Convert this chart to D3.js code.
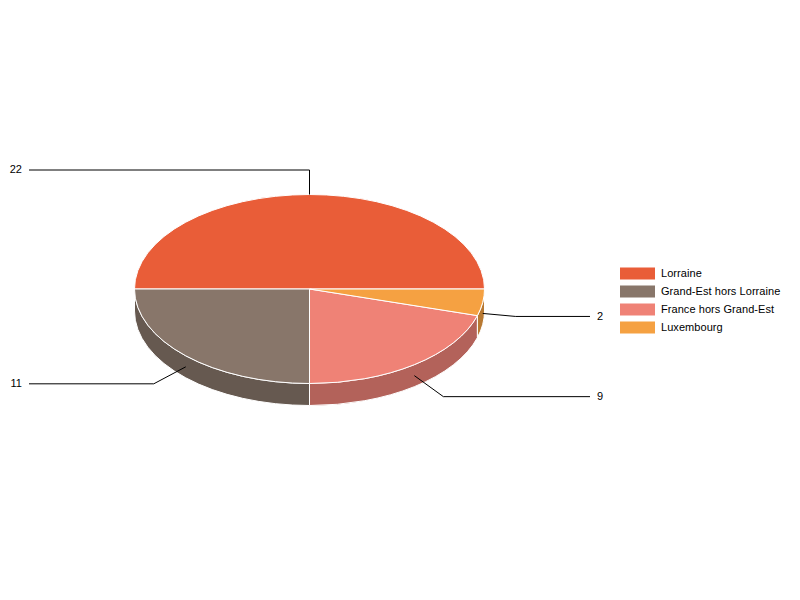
<!DOCTYPE html>
<html>
<head>
<meta charset="utf-8">
<style>
	html, body { margin: 0; padding: 0; background: #fff; }
	text { font-family: 'Liberation Sans', Arial, sans-serif; font-size: 11px; fill: #000; letter-spacing: 0.06px; }
</style>
</head>
<body>
<svg id="pie" width="800" height="600"></svg>
<script src="https://cdnjs.cloudflare.com/ajax/libs/d3/7.8.5/d3.min.js"></script>
<script>
const categories = ['Lorraine', 'Grand-Est hors Lorraine', 'France hors Grand-Est', 'Luxembourg'];
const values = [22, 11, 9, 2];
const colors = ['#e95d38', '#88766a', '#ef8276', '#f5a142'];
const sideColors = ['#af472a', '#665950', '#b3625a', '#b87932'];

let svg = d3.select('#pie');
let depth = 22;

// unit circle -> screen ellipse
let x = d3.scaleLinear().domain([-1, 1]).range([134.5, 484.5]);
let y = d3.scaleLinear().domain([-1, 1]).range([194.5, 383.5]);
let rx = (x(1) - x(-1)) / 2;
let ry = (y(1) - y(-1)) / 2;

// slices run counter-clockwise from 3 o'clock
let pie = d3.pie().sort(null).startAngle(Math.PI / 2).endAngle(Math.PI / 2 - 2 * Math.PI);
let slices = pie(values);

let px = (a) => x(Math.sin(a));
let py = (a) => y(-Math.cos(a));

let topPath = (d) => {
	let large = d.startAngle - d.endAngle > Math.PI ? 1 : 0;
	return 'M' + x(0) + ',' + y(0) +
		'L' + px(d.startAngle) + ',' + py(d.startAngle) +
		'A' + rx + ',' + ry + ' 0 ' + large + ' 0 ' + px(d.endAngle) + ',' + py(d.endAngle) + 'Z';
};

let sidePath = (d) => {
	let a0 = d.startAngle;
	let a1 = d.endAngle;
	return 'M' + px(a0) + ',' + py(a0) +
		'A' + rx + ',' + ry + ' 0 0 0 ' + px(a1) + ',' + py(a1) +
		'L' + px(a1) + ',' + (py(a1) + depth) +
		'A' + rx + ',' + ry + ' 0 0 1 ' + px(a0) + ',' + (py(a0) + depth) + 'Z';
};

// only the front half of the rim shows
svg.selectAll('.side')
	.data(slices.filter((d) => d.startAngle <= -Math.PI / 2))
	.enter().append('path')
	.attr('class', 'side')
	.attr('d', sidePath)
	.attr('fill', (d) => sideColors[d.index])
	.attr('stroke', '#fff')
	.attr('stroke-width', 1);

svg.selectAll('.slice')
	.data(slices)
	.enter().append('path')
	.attr('class', 'slice')
	.attr('d', topPath)
	.attr('fill', (d) => colors[d.index])
	.attr('stroke', '#fff')
	.attr('stroke-width', 1);

// leader lines: elbow offset from the anchor, then out to the label column
let elbows = [[0, -24.5], [-32, 17], [29, 21], [33, 3]];
let labelX = (d) => (d.index < 2 ? 29 : 590);

let leader = (d) => {
	let mid = (d.startAngle + d.endAngle) / 2;
	let ax = px(mid);
	let ay = py(mid) + (Math.cos(mid) < 0 ? depth / 2 : 0);
	let e = elbows[d.index];
	return [[ax, ay], [ax + e[0], ay + e[1]], [labelX(d), ay + e[1]]];
};

let line = d3.line();

svg.selectAll('.leader')
	.data(slices)
	.enter().append('path')
	.attr('class', 'leader')
	.attr('d', (d) => line(leader(d)))
	.attr('fill', 'none')
	.attr('stroke', '#000')
	.attr('stroke-width', 1);

svg.selectAll('.value')
	.data(slices)
	.enter().append('text')
	.attr('class', 'value')
	.attr('x', (d) => (d.index < 2 ? 22 : 597))
	.attr('y', (d) => leader(d)[2][1] - 0.5)
	.attr('dy', '0.35em')
	.attr('text-anchor', (d) => (d.index < 2 ? 'end' : 'start'))
	.text((d) => d.data);

// legend
let legendY = d3.scaleBand().domain(categories).range([264, 336]);

let legend = svg.selectAll('.legend')
	.data(categories)
	.enter().append('g')
	.attr('class', 'legend')
	.attr('transform', (d) => 'translate(620,' + legendY(d) + ')');

legend.append('rect')
	.attr('y', 3.5)
	.attr('width', 35)
	.attr('height', 12)
	.attr('fill', (d, i) => colors[i]);

legend.append('text')
	.attr('x', 41)
	.attr('y', 9)
	.attr('dy', '0.35em')
	.text((d) => d);
</script>
</body>
</html>
